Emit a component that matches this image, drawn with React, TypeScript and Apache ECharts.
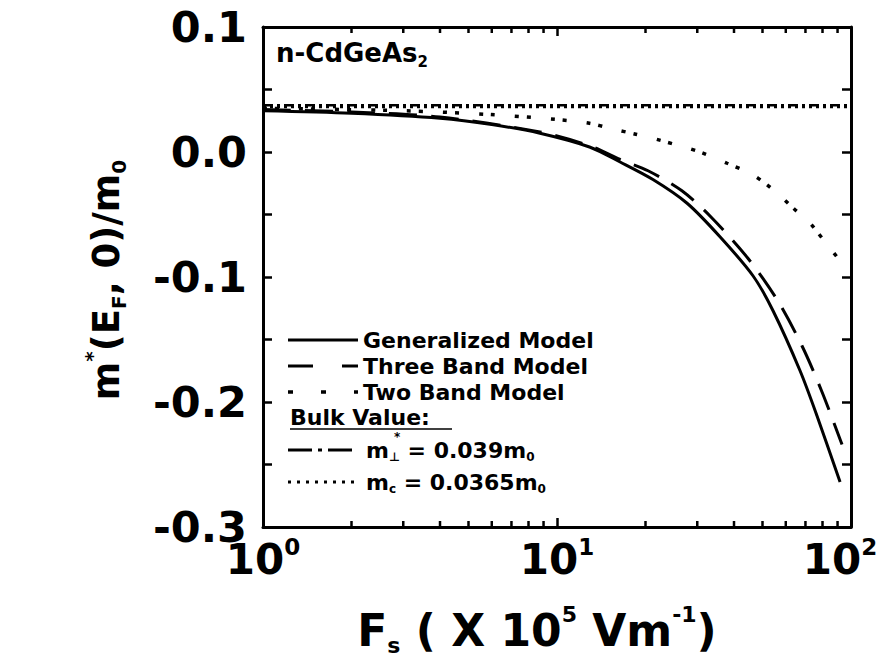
import React, { useEffect, useRef } from 'react';
import * as echarts from 'echarts';

const FONT = 'DejaVu Sans';

// Field F_s (x 10^5 V/m) and effective mass m*(E_F,0)/m0
const fieldGeneralized = [1, 2, 4, 6, 8.75, 12.9, 16.4, 21.2, 27.7, 35.9, 46.4, 54.3, 67.1, 76.6, 91.8];
const massGeneralized = [0.033, 0.031, 0.027, 0.022, 0.015, 0.004, -0.008, -0.022, -0.041, -0.068, -0.099, -0.127, -0.175, -0.211, -0.264];

const fieldThreeBand = [1, 2, 4, 8.75, 12.9, 16.4, 20.4, 26.6, 33.4, 44.6, 56.0, 68.1, 79.7, 93.2];
const massThreeBand = [0.034, 0.032, 0.028, 0.016, 0.005, -0.006, -0.015, -0.031, -0.052, -0.085, -0.118, -0.155, -0.192, -0.234];

const fieldTwoBand = [1, 3, 5.9, 10, 12.9, 15.1, 18.7, 22.9, 30.6, 37.9, 46.1, 54.3, 63.0, 72.6, 81.6, 90.3, 92];
const massTwoBand = [0.035, 0.033, 0.03, 0.026, 0.023, 0.019, 0.014, 0.0088, 0.0, -0.009, -0.018, -0.03, -0.044, -0.057, -0.072, -0.085, -0.088];

const fieldBulk = [1, 100];
const massBulkPerp = [0.0375, 0.0375];
const massBulkC = [0.036, 0.036];

const minorFieldTicks = [2, 3, 4, 5, 6, 7, 8, 9, 20, 30, 40, 50, 60, 70, 80, 90];

const xMin = 1;
const xMax = 100;
const yMin = -0.3;
const yMax = 0.1;
const yInterval = 0.1;

const legendNames = ['Generalized Model', 'Three Band Model', 'Two Band Model'];

const pair = (xs: number[], ys: number[]) => xs.map((x, i) => [x, ys[i]]);

export default function App() {
  const ref = useRef<HTMLDivElement>(null);

  useEffect(() => {
    if (!ref.current) return;
    const chart = echarts.init(ref.current, null, { renderer: 'svg' });

    const axisLine = { show: true, onZero: false, lineStyle: { color: '#000', width: 3 } };
    const bold = { fontFamily: FONT, fontWeight: 'bold' as const, color: '#000' };
    const tick = { show: true, inside: true, length: 9, lineStyle: { color: '#000', width: 2.5 } };

    const option: any = {
      animation: false,
      backgroundColor: '#fff',
      grid: { left: 263, right: 34, top: 27, bottom: 137, outerBoundsMode: 'none' },
      xAxis: [
        {
          type: 'log',
          logBase: 10,
          min: xMin,
          max: xMax,
          position: 'bottom',
          axisLine,
          axisTick: tick,
          splitLine: { show: false },
          axisLabel: {
            margin: 8,
            formatter: (v: number) => {
              const e = Math.round(Math.log10(v));
              return e === 2 ? `{b|10}{s2|${e}}` : `{b|10}{s|${e}}`;
            },
            rich: {
              b: { ...bold, fontSize: 42 },
              s: { ...bold, fontSize: 23, padding: [0, 0, 26, 0] },
              s2: { ...bold, fontSize: 23, padding: [0, 22, 26, 0] },
            },
          },
        },
        {
          type: 'log',
          logBase: 10,
          min: xMin,
          max: xMax,
          position: 'top',
          axisLine,
          axisTick: tick,
          axisLabel: { show: false },
          splitLine: { show: false },
        },
      ],
      yAxis: [
        {
          type: 'value',
          min: yMin,
          max: yMax,
          interval: yInterval,
          position: 'left',
          axisLine,
          axisTick: tick,
          minorTick: { show: true, splitNumber: 2, length: 9, lineStyle: { color: '#000', width: 2.5 } },
          splitLine: { show: false },
          axisLabel: {
            margin: 16,
            ...bold,
            fontSize: 43,
            formatter: (v: number) => (Math.abs(v) < 1e-9 ? '0.0' : v.toFixed(1)),
          },
        },
        {
          type: 'value',
          min: yMin,
          max: yMax,
          interval: yInterval,
          position: 'right',
          axisLine,
          axisTick: tick,
          minorTick: { show: true, splitNumber: 2, length: 9, lineStyle: { color: '#000', width: 2.5 } },
          splitLine: { show: false },
          axisLabel: { show: false },
        },
      ],
      series: [
        {
          name: legendNames[0],
          type: 'line',
          data: pair(fieldGeneralized, massGeneralized),
          showSymbol: false,
          smooth: 0.3,
          lineStyle: { color: '#000', width: 3 },
        },
        {
          name: legendNames[1],
          type: 'line',
          data: pair(fieldThreeBand, massThreeBand),
          showSymbol: false,
          smooth: 0.3,
          lineStyle: { color: '#000', width: 3, type: [28, 14] },
        },
        {
          name: legendNames[2],
          type: 'line',
          data: pair(fieldTwoBand, massTwoBand),
          showSymbol: false,
          smooth: 0.3,
          lineStyle: { color: '#000', width: 3.5, type: [4, 8, 4, 20] },
        },
        {
          name: 'Bulk m_perp',
          type: 'line',
          data: pair(fieldBulk, massBulkPerp),
          showSymbol: false,
          lineStyle: { color: '#000', width: 2.5, type: [10, 4, 3, 4] },
        },
        {
          name: 'Bulk m_c',
          type: 'line',
          data: pair(fieldBulk, massBulkC),
          showSymbol: false,
          lineStyle: { color: '#000', width: 2.5, type: [3, 4] },
        },
        {
          name: 'minor ticks',
          type: 'custom',
          data: minorFieldTicks.map((v) => [v, yMin]),
          clip: false,
          silent: true,
          renderItem: (params: any, api: any) => {
            const x = api.value(0);
            const b = api.coord([x, yMin]);
            const t = api.coord([x, yMax]);
            const st = { stroke: '#000', lineWidth: 2.5 };
            return {
              type: 'group',
              children: [
                { type: 'line', shape: { x1: b[0], y1: b[1], x2: b[0], y2: b[1] - 6 }, style: st },
                { type: 'line', shape: { x1: t[0], y1: t[1], x2: t[0], y2: t[1] + 6 }, style: st },
              ],
            };
          },
        },
      ],
      graphic: [
        {
          type: 'text',
          x: 276,
          y: 53,
          style: {
            text: '{a|n-CdGeAs}{s|2}',
            verticalAlign: 'middle',
            rich: {
              a: { ...bold, fontSize: 26 },
              s: { ...bold, fontSize: 15, padding: [18, 0, 0, 0] },
            },
          },
        },
        {
          type: 'text',
          x: 106,
          y: 280,
          rotation: Math.PI / 2,
          style: {
            text: '{a|m}{sup|*}{a|(E}{sub|F}{a|, 0)/m}{sub|0}',
            align: 'center',
            verticalAlign: 'middle',
            rich: {
              a: { ...bold, fontSize: 37 },
              sup: { ...bold, fontSize: 20, padding: [0, 0, 28, 0] },
              sub: { ...bold, fontSize: 20, padding: [26, 0, 0, 0] },
            },
          },
        },
        {
          type: 'text',
          x: 537,
          y: 630,
          style: {
            text: '{a|F}{sub|s}{a| ( X 10}{sup|5}{a| Vm}{sup|-1}{a|)}',
            align: 'center',
            verticalAlign: 'middle',
            rich: {
              a: { ...bold, fontSize: 44 },
              sup: { ...bold, fontSize: 22, padding: [0, 0, 32, 0] },
              sub: { ...bold, fontSize: 22, padding: [30, 0, 0, 0] },
            },
          },
        },
        { type: 'line', shape: { x1: 288, y1: 340, x2: 358, y2: 340 }, style: { stroke: '#000', lineWidth: 3 } },
        { type: 'line', shape: { x1: 288, y1: 366, x2: 358, y2: 366 }, style: { stroke: '#000', lineWidth: 3, lineDash: [25, 29] } },
        { type: 'line', shape: { x1: 288, y1: 392, x2: 358, y2: 392 }, style: { stroke: '#000', lineWidth: 3.5, lineDash: [5, 28] } },
        { type: 'line', shape: { x1: 288, y1: 450, x2: 354, y2: 450 }, style: { stroke: '#000', lineWidth: 3, lineDash: [24, 6, 4, 6] } },
        { type: 'line', shape: { x1: 288, y1: 482, x2: 356, y2: 482 }, style: { stroke: '#000', lineWidth: 3, lineDash: [3, 6] } },
        { type: 'text', x: 363, y: 340, style: { text: legendNames[0], ...bold, fill: '#000', fontSize: 22, verticalAlign: 'middle' } },
        { type: 'text', x: 363, y: 366, style: { text: legendNames[1], ...bold, fill: '#000', fontSize: 22, verticalAlign: 'middle' } },
        { type: 'text', x: 363, y: 392, style: { text: legendNames[2], ...bold, fill: '#000', fontSize: 22, verticalAlign: 'middle' } },
        { type: 'text', x: 290, y: 417, style: { text: 'Bulk Value:', ...bold, fill: '#000', fontSize: 22, verticalAlign: 'middle' } },
        { type: 'line', shape: { x1: 290, y1: 429, x2: 452, y2: 429 }, style: { stroke: '#000', lineWidth: 1.5 } },
        {
          type: 'text',
          x: 366,
          y: 450,
          style: {
            text: '{a|m}{s|\u22a5}{a| = 0.039m}{s|0}',
            verticalAlign: 'middle',
            rich: {
              a: { ...bold, fontSize: 22 },
              s: { ...bold, fontSize: 12, padding: [14, 0, 0, 0] },
            },
          },
        },
        { type: 'text', x: 394, y: 437, style: { text: '*', ...bold, fill: '#000', fontSize: 12, verticalAlign: 'middle' } },
        {
          type: 'text',
          x: 366,
          y: 482,
          style: {
            text: '{a|m}{s|c}{a| = 0.0365m}{s|0}',
            verticalAlign: 'middle',
            rich: {
              a: { ...bold, fontSize: 22 },
              s: { ...bold, fontSize: 12, padding: [14, 0, 0, 0] },
            },
          },
        },
      ],
    };

    chart.setOption(option);
    return () => chart.dispose();
  }, []);

  return (
    <div
      ref={ref}
      style={{ position: 'fixed', left: 0, top: 0, width: 885, height: 664, background: '#fff' }}
    />
  );
}
